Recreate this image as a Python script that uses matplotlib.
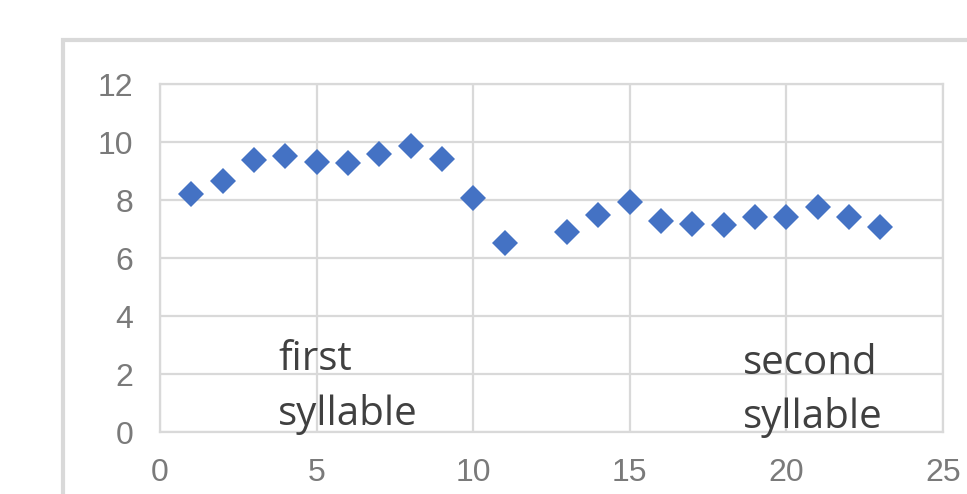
import matplotlib
matplotlib.use("Agg")
import matplotlib.pyplot as plt
from matplotlib.patches import Rectangle

x_vals = [1, 2, 3, 4, 5, 6, 7, 8, 9, 10, 11, 13, 14, 15, 16, 17, 18, 19, 20, 21, 22, 23]
y_vals = [8.21, 8.66, 9.38, 9.52, 9.31, 9.28, 9.59, 9.86, 9.41, 8.07, 6.52,
          6.90, 7.48, 7.93, 7.28, 7.17, 7.14, 7.41, 7.41, 7.76, 7.41, 7.07]
x_ticks = [0, 5, 10, 15, 20, 25]
y_ticks = [0, 2, 4, 6, 8, 10, 12]
annotations = [("first", 3.77, 2.14), ("syllable", 3.77, 0.24),
               ("second", 18.6, 2.0), ("syllable", 18.6, 0.14)]

W, H = 967, 494
fig = plt.figure(figsize=(W / 100, H / 100), dpi=100)
fig.patch.set_facecolor("white")

# chart-area border
fig.patches.append(Rectangle((63 / W, -0.1), 1.2, 1 - 40 / H + 0.1,
                             transform=fig.transFigure, fill=False,
                             edgecolor="#d9d9d9", linewidth=3, zorder=0))

ax = fig.add_axes([160 / W, 1 - 432 / H, (943 - 160) / W, (432 - 84) / H])
ax.set_xlim(0, 25)
ax.set_ylim(0, 12)
ax.set_xticks(x_ticks)
ax.set_yticks(y_ticks)
ax.grid(True, color="#d9d9d9", linewidth=1.6)
ax.set_axisbelow(True)
for s in ax.spines.values():
    s.set_color("#d9d9d9")
    s.set_linewidth(1.6)
ax.tick_params(length=0, labelsize=23, labelcolor="#7a7a7a", pad=19)
for lab in ax.get_xticklabels() + ax.get_yticklabels():
    lab.set_fontfamily(["Liberation Sans", "DejaVu Sans"])

ax.plot(x_vals, y_vals, linestyle="none", marker="D", markersize=13,
        color="#4472C4", markeredgewidth=0, zorder=3)

for txt, xx, yy in annotations:
    ax.text(xx, yy, txt, fontsize=29, color="#404040", ha="left", va="baseline",
            family=["Open Sans", "DejaVu Sans"], zorder=4)

fig.savefig("out.png", dpi=100, facecolor="white")
